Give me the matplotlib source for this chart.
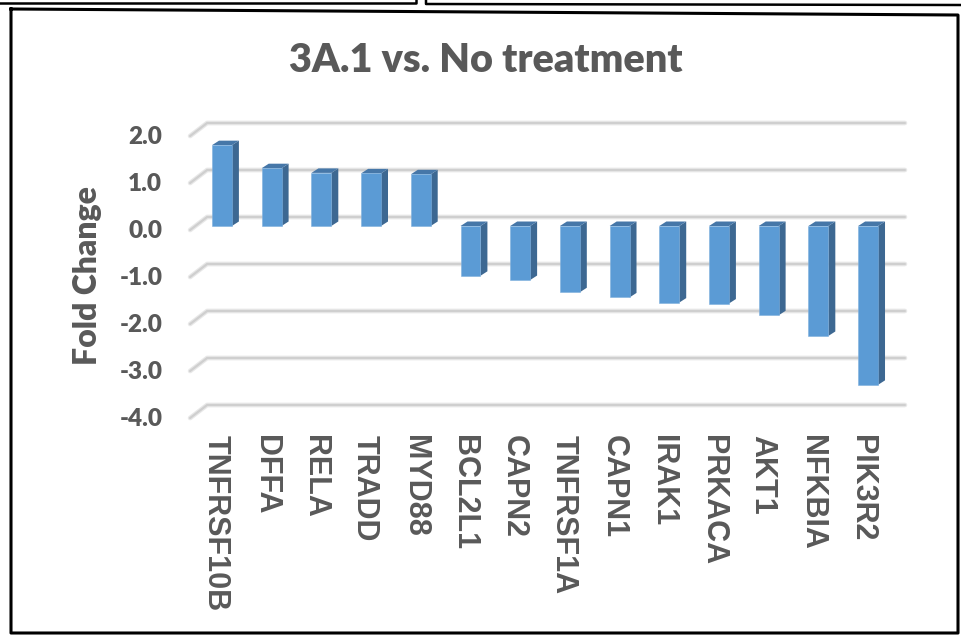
import matplotlib
matplotlib.use("Agg")
import matplotlib.pyplot as plt
from matplotlib.patches import Polygon
from matplotlib.lines import Line2D
import matplotlib.transforms as mtransforms

genes = ["TNFRSF10B", "DFFA", "RELA", "TRADD", "MYD88", "BCL2L1", "CAPN2",
         "TNFRSF1A", "CAPN1", "IRAK1", "PRKACA", "AKT1", "NFKBIA", "PIK3R2"]
fold_change = [1.72, 1.23, 1.13, 1.12, 1.10, -1.06, -1.15,
               -1.41, -1.52, -1.63, -1.65, -1.90, -2.34, -3.38]
y_ticks = [2.0, 1.0, 0.0, -1.0, -2.0, -3.0, -4.0]

FRONT = "#5b9bd5"
SIDE = "#3d6892"
TOP = "#4677a8"
GRID = "#cfcfcf"
TEXT = "#595959"

W, H = 961, 635
fig = plt.figure(figsize=(W / 100, H / 100), dpi=100)

# axes sized so the bar front faces sit on a fixed pixel grid
ax = fig.add_axes([182.2 / W, 1 - 423.4 / H, 715.7 / W, 300.8 / H])
ax.set_xlim(-0.8, 13.6)
ax.set_ylim(-4.2, 2.2)
for s in ax.spines.values():
    s.set_visible(False)
ax.set_facecolor("none")


def px_to_data(dx, dy):
    # convert a pixel shift (x right, y up) into data units
    inv = ax.transData.inverted()
    p0 = ax.transData.transform((0, 0))
    p1 = inv.transform((p0[0] + dx, p0[1] + dy))
    return p1[0], p1[1]


# depth offsets: front wall of the floor, back wall, bar depth
fx, fy = px_to_data(-6, -4)
bx, by = px_to_data(11, 9)
dx, dy = px_to_data(7, 4.5)

grid_left = -0.52
grid_right = 13.52
for v in y_ticks:
    xs = [grid_left + fx, grid_left + bx, grid_right + bx]
    ys = [v + fy, v + by, v + by]
    ax.plot(xs, ys, color="#e8e8e8", lw=3.4, solid_capstyle="round",
            zorder=1, clip_on=False)
    ax.plot(xs, ys, color=GRID, lw=1.6, solid_capstyle="round",
            zorder=1, clip_on=False)

width = 0.4
for i, v in enumerate(fold_change):
    x0, x1 = i - width / 2, i + width / 2
    lo, hi = min(v, 0), max(v, 0)
    side = Polygon([(x1, lo), (x1 + dx, lo + dy), (x1 + dx, hi + dy), (x1, hi)],
                   closed=True, facecolor=SIDE, edgecolor="none", zorder=2)
    top = Polygon([(x0, hi), (x1, hi), (x1 + dx, hi + dy), (x0 + dx, hi + dy)],
                  closed=True, facecolor=TOP, edgecolor="none", zorder=2)
    ax.add_patch(side)
    ax.add_patch(top)
ax.bar(range(len(genes)), fold_change, width=width, color=FRONT,
       edgecolor="#7fb0dd", linewidth=0.4, zorder=3)

# tick labels sit on the front wall
front_shift = mtransforms.ScaledTranslation(-6 / 100, -3 / 100, fig.dpi_scale_trans)

ax.set_yticks(y_ticks)
ax.set_yticklabels([f"{v:.1f}" for v in y_ticks], fontfamily="Lato",
                   fontweight="heavy", fontsize=17.5, color=TEXT)
ax.tick_params(axis="y", length=0, pad=10)
for lab in ax.get_yticklabels():
    lab.set_transform(lab.get_transform() + front_shift)

ax.set_xticks(range(len(genes)))
ax.set_xticklabels(genes, rotation=270, fontfamily="Liberation Sans",
                   fontweight="bold", fontsize=22, color=TEXT,
                   ha="center", va="top")
ax.tick_params(axis="x", length=0, pad=6)
for lab in ax.get_xticklabels():
    lab.set_transform(lab.get_transform() + front_shift)

fig.text(88 / W, 1 - 276 / H, "Fold Change", rotation=90, ha="center",
         va="center", fontfamily="Lato", fontweight="heavy", fontsize=23,
         color=TEXT)
fig.text(486 / W, 1 - 60 / H, "3A.1 vs. No treatment", ha="center",
         va="center", fontfamily="Lato", fontweight="heavy", fontsize=28.5,
         color=TEXT)

# outer frame and the edges of the neighbouring panels above
def fig_line(xs, ys, lw=2.2, color="black"):
    fig.add_artist(Line2D([x / W for x in xs], [1 - y / H for y in ys],
                          transform=fig.transFigure, color=color, lw=lw))

fig_line([11, 958, 958, 11, 11], [9, 15, 633, 633, 9])
fig_line([0, 416, 416], [3, 3, -2], lw=1.8)
fig_line([426, 426, 961], [-2, 4, 5], lw=1.8)

fig.savefig("out.png", dpi=100)
